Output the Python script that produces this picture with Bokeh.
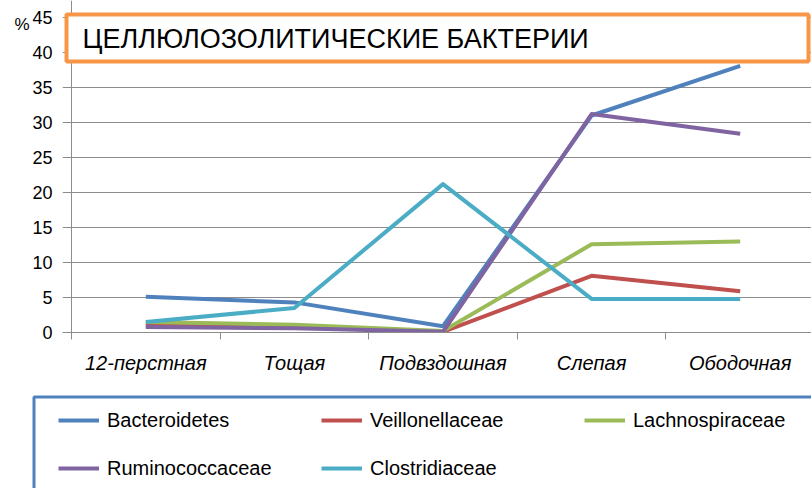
from bokeh.plotting import figure
from bokeh.models import (Range1d, FixedTicker, BoxAnnotation, Label, Legend, LegendItem,
                          LinearAxis, Span)
from bokeh.layouts import column
from bokeh.embed import file_html
from bokeh.resources import INLINE

# ---- data ----
categories = ["12-перстная", "Тощая", "Подвздошная", "Слепая", "Ободочная"]
bacteroidetes = [5.1, 4.3, 0.9, 31.0, 38.1]
veillonellaceae = [1.0, 0.8, 0.1, 8.1, 5.9]
lachnospiraceae = [1.5, 1.1, 0.2, 12.6, 13.0]
ruminococcaceae = [0.8, 0.6, 0.1, 31.2, 28.4]
clostridiaceae = [1.5, 3.5, 21.2, 4.8, 4.8]
series_names = ["Bacteroidetes", "Veillonellaceae", "Lachnospiraceae",
                "Ruminococcaceae", "Clostridiaceae"]
series_values = [bacteroidetes, veillonellaceae, lachnospiraceae,
                 ruminococcaceae, clostridiaceae]
series_colors = ["#4F81BD", "#C0504D", "#9BBB59", "#8064A2", "#4BACC6"]
legend_order = [0, 3, 1, 4, 2]   # column-major fill giving rows: B V L / R C
y_ticks = [0, 5, 10, 15, 20, 25, 30, 35, 40, 45]
title_text = "ЦЕЛЛЮЛОЗОЛИТИЧЕСКИЕ БАКТЕРИИ"
unit_text = "%"

# ---- layout geometry (page pixels) ----
W = 811
H1, H2 = 392, 96
FRAME_L = 62          # frame left (page px)
X0 = 71               # page x of category boundary 0
Y0 = 332              # page y of value 0
CAT_W = 148.6
PX_PER_Y = 7.0


def dx(px):
    return (px - X0) / CAT_W


def dy(py):
    return (Y0 - py) / PX_PER_Y


xs = [i + 0.5 for i in range(len(categories))]

p = figure(width=W, height=H1, output_backend="svg", toolbar_location=None,
           x_range=Range1d(dx(FRAME_L), dx(W)),
           y_range=Range1d(0, dy(0)),
           min_border_left=FRAME_L, min_border_top=0,
           min_border_bottom=H1 - Y0, min_border_right=0)
p.outline_line_color = None
p.background_fill_color = "white"
p.border_fill_color = "white"

# x axis: labels centred in categories, tick marks at category boundaries
p.xaxis.ticker = FixedTicker(ticks=xs, minor_ticks=list(range(len(categories) + 1)))
p.xaxis.major_label_overrides = {x: c for x, c in zip(xs, categories)}
p.xaxis.major_tick_out = 0
p.xaxis.major_tick_in = 0
p.xaxis.minor_tick_out = 7
p.xaxis.minor_tick_in = 0
p.xaxis.minor_tick_line_color = "#8c8c8c"
p.xaxis.axis_line_color = "#8c8c8c"
p.xaxis.major_label_text_font = "Liberation Sans"
p.xaxis.major_label_text_font_style = "italic"
p.xaxis.major_label_text_font_size = "20px"
p.xaxis.major_label_text_color = "#000000"
p.xaxis.major_label_standoff = 12

# y axis
p.yaxis.ticker = FixedTicker(ticks=y_ticks)
p.yaxis.major_tick_out = 0
p.yaxis.major_tick_in = 0
p.yaxis.minor_tick_line_color = None
p.yaxis.axis_line_color = None
p.yaxis.major_label_text_font = "Liberation Sans"
p.yaxis.major_label_text_font_size = "18px"
p.yaxis.major_label_text_color = "#000000"
p.yaxis.major_label_standoff = 10

unit_axis = LinearAxis(ticker=FixedTicker(ticks=[dy(24)]),
                       major_label_overrides={dy(24): unit_text},
                       axis_line_color=None, major_tick_line_color=None,
                       minor_tick_line_color=None, major_tick_out=0, major_tick_in=0,
                       major_label_standoff=0,
                       major_label_text_font="Liberation Sans",
                       major_label_text_font_size="17px",
                       major_label_text_color="#000000")
p.add_layout(unit_axis, "left")

p.xgrid.grid_line_color = None
p.ygrid.ticker = FixedTicker(ticks=y_ticks)
p.ygrid.grid_line_color = "#8c8c8c"
p.ygrid.grid_line_width = 1

for name, vals, col in zip(series_names, series_values, series_colors):
    p.line(xs, vals, line_color=col, line_width=4, line_join="round")

# vertical axis line at the first category boundary
p.add_layout(Span(location=0, dimension="height", line_color="#8c8c8c", line_width=1))

# title box
p.add_layout(BoxAnnotation(left=dx(66), right=dx(808), top=dy(14), bottom=dy(61),
                           fill_color="white", fill_alpha=1.0,
                           line_color="#F79646", line_width=4, line_alpha=1.0))
p.add_layout(Label(x=dx(82), y=dy(38), text=title_text, text_font="Liberation Sans",
                   text_font_size="27px", text_color="#000000",
                   text_align="left", text_baseline="alphabetic"))

# ---- legend panel ----
p2 = figure(width=W, height=H2, output_backend="svg", toolbar_location=None,
            x_range=Range1d(0, W), y_range=Range1d(H2, 0),
            x_axis_type=None, y_axis_type=None, min_border=0)
p2.outline_line_color = None
p2.grid.visible = False
p2.background_fill_color = "white"
p2.border_fill_color = "white"
for fig in (p, p2):
    if "frame_align" in fig.properties():
        fig.frame_align = False

p2.quad(left=[33.5], right=[W + 20], top=[396.5 - H1], bottom=[H2 + 20],
        fill_color="white", line_color="#4F81BD", line_width=3)

nan = float("nan")
leg_renderers = [p2.line(x=[nan], y=[nan], line_color=c, line_width=4) for c in series_colors]
items = [LegendItem(label=series_names[i], renderers=[leg_renderers[i]]) for i in legend_order]
legend = Legend(items=items, ncols=3, location=(58, 8),
                padding=0, spacing=24, glyph_width=41, glyph_height=24,
                label_height=24, label_width=190, label_standoff=8,
                label_text_font="Liberation Sans", label_text_font_size="20px",
                label_text_color="#000000", border_line_alpha=0,
                background_fill_alpha=0, margin=0)
p2.add_layout(legend, "center")

layout = column(p, p2, spacing=0)
open("out.html", "w").write(file_html(layout, INLINE))
